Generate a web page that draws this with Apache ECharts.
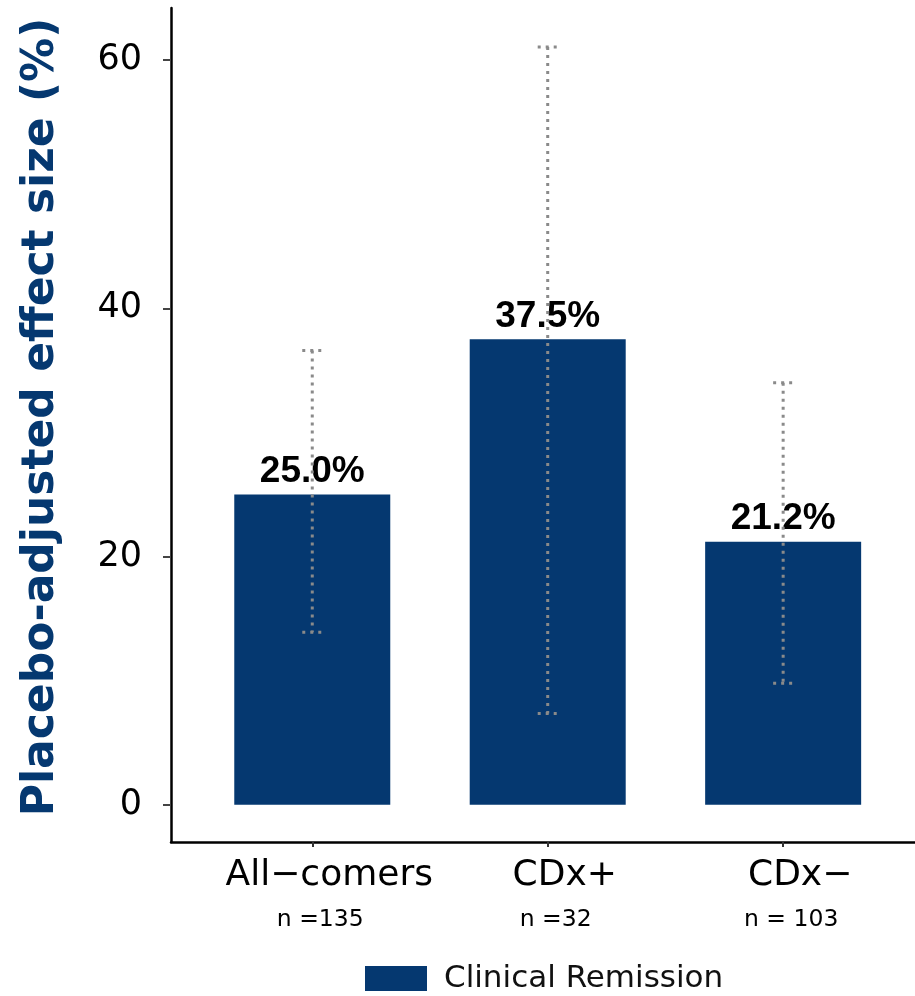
<!DOCTYPE html>
<html>
<head>
<meta charset="utf-8">
<title>Placebo-adjusted effect size</title>
<script src="https://cdn.jsdelivr.net/npm/echarts@6/dist/echarts.min.js"></script>
<style>
  html, body { margin: 0; padding: 0; background: #ffffff; }
  #chart { width: 915px; height: 996px; }
</style>
</head>
<body>
<div id="chart"></div>
<script>
// Subgroups and their placebo-adjusted clinical remission effect sizes (%)
const categories = ['All\u2212comers', 'CDx+', 'CDx\u2212'];
const sampleSizes = ['n =135', 'n =32', 'n = 103'];
const categoryPositions = [1, 2, 3];
const effectSizes = [25.0, 37.5, 21.2];
const ciLower = [13.9, 7.35, 9.8];
const ciUpper = [36.6, 61.05, 34.0];
const yTickValues = [0, 20, 40, 60];
const seriesName = 'Clinical Remission';
const yTitle = 'Placebo-adjusted effect size (%)';

const NAVY = '#053870';

const barData = categoryPositions.map((x, i) => [x, effectSizes[i]]);
const errorData = categoryPositions.map((x, i) => [x, ciLower[i], ciUpper[i]]);

const chart = echarts.init(document.getElementById('chart'), null, { renderer: 'canvas' });

const dotted = { stroke: '#8a8a8a', lineWidth: 3, lineDash: [3, 5], fill: null };

chart.setOption({
  animation: false,
  backgroundColor: '#ffffff',
  grid: { left: 171, top: 8, right: 0, bottom: 154, containLabel: false },
  graphic: [
    {
      type: 'text',
      x: 42,
      y: 417,
      rotation: Math.PI / 2,
      style: {
        text: yTitle,
        fontFamily: 'DejaVu Sans',
        fontWeight: 'bold',
        fontSize: 44,
        fill: NAVY,
        align: 'center',
        verticalAlign: 'middle'
      }
    }
  ],
  legend: {
    data: [seriesName],
    left: 365,
    top: 963,
    padding: 0,
    icon: 'rect',
    itemWidth: 62,
    itemHeight: 25,
    textStyle: { fontFamily: 'DejaVu Sans', fontSize: 31, color: '#111', padding: [0, 0, 0, 12] }
  },
  xAxis: {
    type: 'value',
    min: 0.4,
    max: 3.56,
    splitLine: { show: false },
    axisLine: { show: true, onZero: false, lineStyle: { color: '#000', width: 2.5 } },
    axisTick: { show: true, customValues: categoryPositions, length: 5, lineStyle: { color: '#333', width: 2 } },
    axisLabel: {
      show: true,
      customValues: categoryPositions,
      margin: 12,
      formatter: (v) => {
        const i = categoryPositions.indexOf(Math.round(v));
        return i < 0 ? '' : '{c|' + categories[i] + '}\n{n|' + sampleSizes[i] + '}';
      },
      rich: {
        c: { fontFamily: 'DejaVu Sans', fontSize: 36, color: '#000', lineHeight: 44, padding: [0, 0, 0, 34] },
        n: { fontFamily: 'DejaVu Sans', fontSize: 23.5, color: '#000', lineHeight: 44, padding: [0, 0, 0, 16] }
      }
    }
  },
  yAxis: {
    type: 'value',
    min: -3,
    max: 64.2,
    splitLine: { show: false },
    axisLine: { show: true, onZero: false, lineStyle: { color: '#000', width: 2.5 } },
    axisTick: { show: true, customValues: yTickValues, length: 8, lineStyle: { color: '#444', width: 2 } },
    axisLabel: {
      customValues: yTickValues,
      margin: 29,
      fontFamily: 'DejaVu Sans',
      fontSize: 35,
      color: '#000'
    }
  },
  series: [
    {
      name: seriesName,
      type: 'bar',
      data: barData,
      barWidth: 156,
      itemStyle: { color: NAVY },
      z: 2,
      label: {
        show: true,
        position: 'top',
        distance: 4,
        formatter: (p) => p.value[1].toFixed(1) + '%',
        fontFamily: 'Liberation Sans',
        fontWeight: 'bold',
        fontSize: 37,
        color: '#000'
      }
    },
    {
      name: 'ci',
      type: 'custom',
      z: 10,
      silent: true,
      data: errorData,
      renderItem: (params, api) => {
        const x = api.value(0);
        const lo = api.coord([x, api.value(1)]);
        const hi = api.coord([x, api.value(2)]);
        const cx = lo[0];
        const half = 10;
        return {
          type: 'group',
          children: [
            { type: 'line', shape: { x1: cx, y1: hi[1], x2: cx, y2: lo[1] }, style: dotted },
            { type: 'line', shape: { x1: cx - half, y1: hi[1], x2: cx + half, y2: hi[1] }, style: dotted },
            { type: 'line', shape: { x1: cx - half, y1: lo[1], x2: cx + half, y2: lo[1] }, style: dotted }
          ]
        };
      }
    }
  ]
});
</script>
</body>
</html>
